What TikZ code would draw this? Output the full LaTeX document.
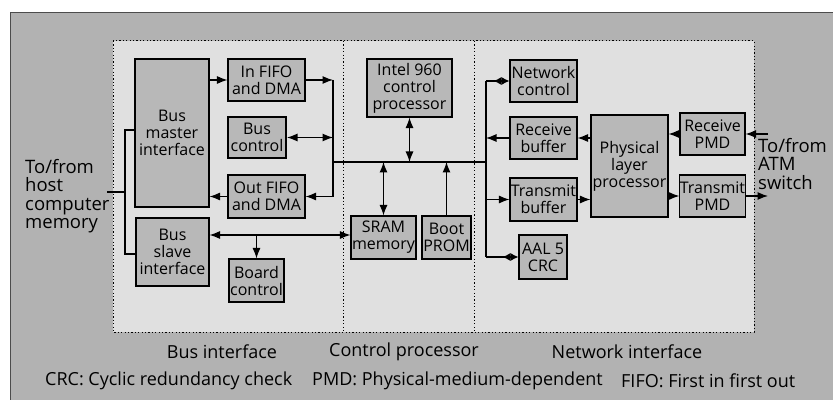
\documentclass[tikz,border=0pt]{standalone}
\usepackage{fontspec}
\setmainfont{Open Sans}
\usetikzlibrary{arrows.meta}

\begin{document}
\begin{tikzpicture}[x=1pt,y=-1pt]
\tikzstyle{block} = [draw,fill=black!28,line width=1.1pt,inner sep=0pt,align=center,font=\fontsize{16}{17}\selectfont]
\tikzstyle{conn} = [line width=1.1pt]
\tikzstyle{tip} = [conn,-{Latex[length=10.5pt,width=8pt]}]
\tikzstyle{tips} = [conn,{Latex[length=10.5pt,width=8pt]}-{Latex[length=10.5pt,width=8pt]}]
\tikzstyle{twotip} = [conn,-{Latex[reversed,length=8pt,width=8pt]Latex[length=8pt,width=8pt]}]
\tikzstyle{sep} = [line width=1pt,dash pattern=on 1.2pt off 2.2pt]
\tikzstyle{side} = [align=left,anchor=north west,inner sep=0pt,font=\fontsize{18.5}{18.5}\selectfont]
\tikzstyle{part} = [inner sep=0pt,font=\fontsize{18}{20}\selectfont]
\tikzstyle{note} = [inner sep=0pt,font=\fontsize{18}{20}\selectfont]

\useasboundingbox (0,0) rectangle (833,409);
\fill[black!30] (10,13) rectangle (833,400);
\draw[black!70,line width=1pt] (833,13) -- (10,13) -- (10,400);
\fill[black!12] (113,41) rectangle (754,332);
\draw[sep] (113,41) rectangle (754,332);
\draw[sep] (343,41) -- (343,332);
\draw[sep] (474,41) -- (474,332);

\node[block,minimum width=74pt,minimum height=148pt] (bm) at (172,133) {Bus\\master\\interface};
\node[block,minimum width=77pt,minimum height=42pt] (infifo) at (266.5,80) {In FIFO\\and DMA};
\node[block,minimum width=58pt,minimum height=41pt,line width=2pt] (busctl) at (257,137.5) {Bus\\control};
\node[block,minimum width=77pt,minimum height=43pt] (outfifo) at (266.5,196.5) {Out FIFO\\and DMA};
\node[block,minimum width=73pt,minimum height=68pt] (bs) at (172.5,252) {Bus\\slave\\interface};
\node[block,minimum width=55pt,minimum height=43pt] (board) at (256.5,280.5) {Board\\control};

\node[block,minimum width=85pt,minimum height=58pt] (intel) at (409.5,88) {Intel 960\\control\\processor};
\node[block,minimum width=65pt,minimum height=43pt] (sram) at (383.5,237.5) {SRAM\\memory};
\node[block,minimum width=49pt,minimum height=43pt] (boot) at (446.5,237.5) {Boot\\PROM};

\node[block,minimum width=67pt,minimum height=42pt] (netctl) at (543.5,81) {Network\\control};
\node[block,minimum width=67pt,minimum height=42pt] (rxbuf) at (543.5,138) {Receive\\buffer};
\node[block,minimum width=67pt,minimum height=43pt] (txbuf) at (543.5,199.5) {Transmit\\buffer};
\node[block,minimum width=48pt,minimum height=44pt] (aal) at (543,257) {AAL 5\\CRC};
\node[block,minimum width=77pt,minimum height=102pt] (phy) at (629.5,166) {Physical\\layer\\processor};
\node[block,minimum width=65pt,minimum height=42pt] (rxpmd) at (712.5,134) {Receive\\PMD};
\node[block,minimum width=65pt,minimum height=42pt] (txpmd) at (712.5,196) {Transmit\\PMD};

\node[side] (host) at (25,159) {To/from\\host\\computer\\memory};
\node[side] (atm) at (758,138) {To/from\\ATM\\switch};

\coordinate (busL) at (333,162);
\coordinate (busR) at (486,162);
\coordinate (hostin) at (107,192);
\coordinate (hostt) at (125,130);
\coordinate (hostb) at (125,254);
\coordinate (atmin) at (768,134);
\coordinate (atmout) at (768,196);

\draw[conn] (hostt -| bm.west) -- (hostt) -- (hostb) -- (hostb -| bs.west);
\draw[conn] (hostin) -- (hostin -| hostt);

\draw[tip] (bm.east |- infifo) -- (infifo.west);
\draw[tip] (infifo.east) -- (infifo.east -| busL);
\draw[conn] (infifo.east -| busL) -- (outfifo.east -| busL);
\draw[tips] (busctl.east) -- (busctl.east -| busL);
\draw[tip] (outfifo.east -| busL) -- (outfifo.east);
\draw[tip] (outfifo.west) -- (outfifo.west -| bm.east);
\draw[tips] (bs.east |- 0,235) -- (sram.west |- 0,235);
\draw[tip] (board.north |- 0,235) -- (board.north);

\draw[conn] (busL) -- (busR);
\draw[tips] (intel.south) -- (intel.south |- busL);
\draw[tips] (sram.north |- busL) -- (sram.north);
\draw[tip] (boot.north) -- (boot.north |- busL);

\draw[conn] (netctl.west -| busR) -- (aal.west -| busR);
\draw[twotip] (netctl.west -| busR) -- (netctl.west);
\draw[tip] (rxbuf.west) -- (rxbuf.west -| busR);
\draw[tip] (txbuf.west -| busR) -- (txbuf.west);
\draw[twotip] (aal.west -| busR) -- (aal.west);
\draw[tip] (phy.west |- rxbuf) -- (rxbuf.east);
\draw[tip] (txbuf.east) -- (phy.west |- txbuf);
\draw[tip] (rxpmd.west) -- (phy.east |- rxpmd);
\draw[tip] (phy.east |- txpmd) -- (txpmd.west);
\draw[tip] (atmin) -- (rxpmd.east);
\draw[tip] (txpmd.east) -- (atmout);

\node[part] (pbus) at (222,352) {Bus interface};
\node[part] (pctl) at (404,352) {Control processor};
\node[part] (pnet) at (627,352) {Network interface};

\node[note,anchor=west] (ncrc) at (45,381) {CRC: Cyclic redundancy check};
\node[note,anchor=west] (npmd) at (312,381) {PMD: Physical-medium-dependent};
\node[note,anchor=west] (nfifo) at (621,381) {FIFO: First in first out};
\end{tikzpicture}
\end{document}
